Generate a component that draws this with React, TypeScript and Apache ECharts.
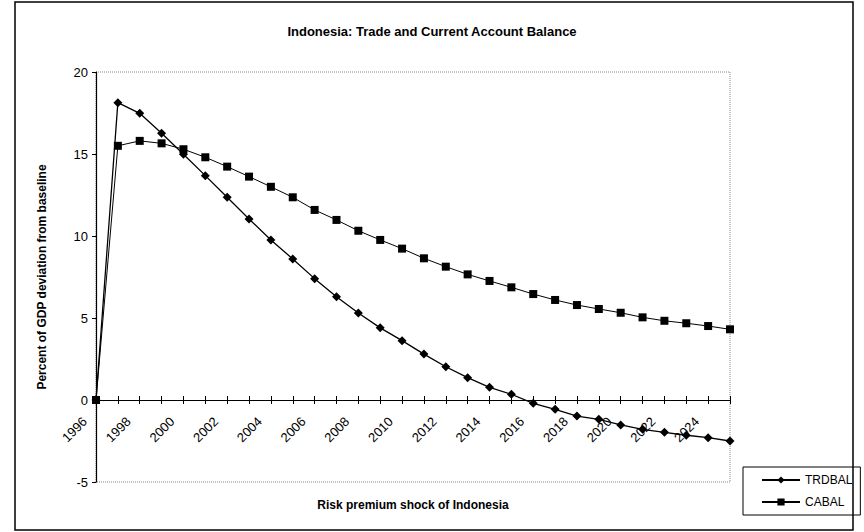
import React, { useEffect, useRef } from "react";
import * as echarts from "echarts";

const years = Array.from({ length: 30 }, (_, i) => String(1996 + i));
const trdbal = [0, 18.13, 17.48, 16.26, 14.98, 13.68, 12.36, 11.04, 9.76, 8.6, 7.4, 6.3, 5.3, 4.4, 3.62, 2.8, 2.03, 1.36, 0.77, 0.35, -0.2, -0.57, -0.98, -1.18, -1.52, -1.79, -1.97, -2.15, -2.3, -2.5];
const cabal = [0, 15.5, 15.8, 15.65, 15.29, 14.8, 14.23, 13.62, 13.0, 12.36, 11.59, 10.98, 10.32, 9.76, 9.23, 8.64, 8.13, 7.66, 7.26, 6.87, 6.46, 6.1, 5.79, 5.55, 5.32, 5.04, 4.83, 4.68, 4.51, 4.31];
const yTicks = { min: -5, max: 20, interval: 5 };

const FONT = "Liberation Sans, Arial, sans-serif";
const W = 864;
const H = 532;
const GRID = { left: 96, right: 134, top: 72, bottom: 50 };

export default function App() {
  const ref = useRef<HTMLDivElement>(null);
  useEffect(() => {
    const chart = echarts.init(ref.current!, null, { renderer: "svg" });
    const gridH = H - GRID.top - GRID.bottom;
    const zeroFromBottom = (gridH * (0 - yTicks.min)) / (yTicks.max - yTicks.min);
    const zeroFromTop = gridH - zeroFromBottom;
    chart.setOption({
      animation: false,
      backgroundColor: "#fff",
      textStyle: { fontFamily: FONT, color: "#000" },
      title: {
        text: "Indonesia: Trade and Current Account Balance",
        left: "center",
        top: 20,
        textStyle: { fontFamily: FONT, fontSize: 13, fontWeight: "bold", color: "#000" },
      },
      grid: {
        ...GRID,
        containLabel: false,
        outerBoundsMode: "none",
        show: true,
        borderColor: "#888",
        borderWidth: 1,
        borderType: "dotted",
      },
      legend: {
        left: 743,
        top: 467,
        orient: "vertical",
        width: 106,
        borderColor: "#000",
        borderWidth: 1,
        padding: [7, 8, 7, 18],
        itemGap: 10,
        itemWidth: 38,
        itemHeight: 9,
        textStyle: { fontFamily: FONT, fontSize: 12, color: "#000" },
        data: ["TRDBAL", "CABAL"],
      },
      graphic: [
        {
          type: "rect",
          shape: { x: 15, y: 2, width: 838, height: 528 },
          style: { fill: "none", stroke: "#000", lineWidth: 1.5 },
          silent: true,
        },
        {
          type: "text",
          x: 413,
          y: 505,
          style: {
            text: "Risk premium shock of Indonesia",
            fontFamily: FONT,
            fontSize: 12,
            fontWeight: "bold",
            fill: "#000",
            align: "center",
            verticalAlign: "middle",
          },
          silent: true,
        },
      ],
      xAxis: [
        {
          type: "category",
          data: years,
          boundaryGap: false,
          position: "bottom",
          offset: -zeroFromBottom,
          z: 5,
          axisLine: { show: true, onZero: false, lineStyle: { color: "#000", width: 1.2 } },
          axisTick: { show: true, interval: 0, inside: false, length: 4, lineStyle: { color: "#000" } },
          axisLabel: {
            interval: 1,
            rotate: 45,
            fontFamily: FONT,
            fontSize: 13,
            color: "#000",
            margin: 8,
            padding: [0, 16, 0, 0],
          },
          splitLine: { show: false },
        },
        {
          type: "category",
          data: years,
          boundaryGap: false,
          position: "top",
          offset: -zeroFromTop,
          axisLine: { show: false, onZero: false },
          axisTick: { show: true, interval: 0, inside: false, length: 4, lineStyle: { color: "#000" } },
          axisLabel: { show: false },
          splitLine: { show: false },
        },
      ],
      yAxis: {
        type: "value",
        min: yTicks.min,
        max: yTicks.max,
        interval: yTicks.interval,
        name: "Percent of GDP deviation from baseline",
        nameLocation: "middle",
        nameGap: 48,
        nameTextStyle: { fontFamily: FONT, fontSize: 12, fontWeight: "bold", color: "#000" },
        axisLine: { show: true, lineStyle: { color: "#000", width: 1.2 } },
        axisTick: { show: true, length: 4, lineStyle: { color: "#000" } },
        axisLabel: { fontFamily: FONT, fontSize: 13, color: "#000", margin: 8 },
        splitLine: { show: false },
      },
      series: [
        {
          name: "TRDBAL",
          type: "line",
          data: trdbal,
          symbol: "diamond",
          symbolSize: 9,
          itemStyle: { color: "#000" },
          lineStyle: { color: "#000", width: 1.3 },
        },
        {
          name: "CABAL",
          type: "line",
          data: cabal,
          symbol: "rect",
          symbolSize: 8,
          itemStyle: { color: "#000" },
          lineStyle: { color: "#000", width: 1 },
        },
      ],
    });
    return () => chart.dispose();
  }, []);
  return (
    <div
      ref={ref}
      style={{ position: "fixed", left: 0, top: 0, width: W, height: H }}
    />
  );
}
